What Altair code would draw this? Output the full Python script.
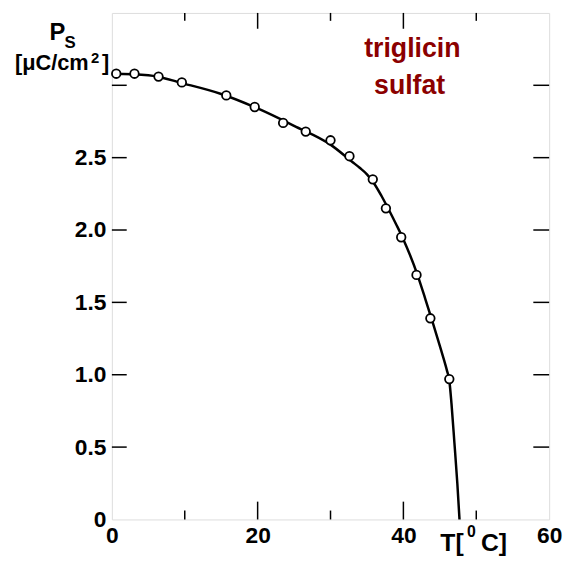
import altair as alt
import pandas as pd

# measured points (T in °C, Ps in µC/cm²)
pts_T = [0.6, 3.1, 6.4, 9.6, 15.7, 19.6, 23.5, 26.6, 30.0, 32.6, 35.8, 37.6, 39.7, 41.8, 43.7, 46.3]
pts_P = [3.08, 3.08, 3.06, 3.02, 2.93, 2.85, 2.74, 2.68, 2.62, 2.51, 2.35, 2.15, 1.95, 1.69, 1.39, 0.97]

# fitted curve
curve_T = [0, 5, 10, 15, 20, 25, 30, 33, 34, 35, 36, 37, 38, 39, 40, 42, 43, 44, 45, 45.5, 46,
           46.3, 46.6, 47.0, 47.4, 47.7]
curve_P = [3.08, 3.07, 3.01, 2.94, 2.84, 2.72, 2.59, 2.47, 2.43, 2.385, 2.32, 2.235, 2.14, 2.04, 1.935,
           1.68, 1.525, 1.365, 1.2, 1.115, 1.025, 0.96, 0.80, 0.53, 0.25, 0.0]

x_labels = [0, 20, 40, 60]
x_ticks_major = [20, 40]
x_ticks_minor = [10, 30, 50]
y_labels = [0, 0.5, 1.0, 1.5, 2.0, 2.5]
y_ticks = [0.5, 1.0, 1.5, 2.0, 2.5, 3.0]

W, H = 442, 512
FONT = "Liberation Sans"

pts = pd.DataFrame({"T": pts_T, "P": pts_P})
curve = pd.DataFrame({"T": curve_T, "P": curve_P})

xs = alt.Scale(domain=[0, 60], nice=False, zero=False)
ys = alt.Scale(domain=[0, 3.5], nice=False, zero=False)

x_axis = alt.Axis(values=x_labels, ticks=False, domain=False, grid=False, title=None,
                  labelFont=FONT, labelFontWeight="bold", labelFontSize=23,
                  labelColor="black", labelPadding=5, labelFlush=False)
y_axis = alt.Axis(values=y_labels, ticks=False, domain=False, grid=False, title=None,
                  labelFont=FONT, labelFontWeight="bold", labelFontSize=23,
                  labelColor="black", labelPadding=6,
                  labelExpr="datum.value == 0 ? '0' : format(datum.value, '.1f')")

line = alt.Chart(curve).mark_line(color="black", strokeWidth=2.5, interpolate="monotone").encode(
    x=alt.X("T:Q", scale=xs, axis=x_axis),
    y=alt.Y("P:Q", scale=ys, axis=y_axis),
)

points = alt.Chart(pts).mark_point(shape="circle", filled=True, fill="white", stroke="black",
                                   strokeWidth=1.8, size=75, opacity=1).encode(
    x=alt.X("T:Q", scale=xs), y=alt.Y("P:Q", scale=ys))

def xtick(vals, y0, y1):
    return alt.Chart(pd.DataFrame({"T": vals})).mark_rule(color="black", strokeWidth=1.5).encode(
        x=alt.X("T:Q", scale=xs), y=alt.value(y0), y2=alt.value(y1))

def ytick(vals, x0, x1):
    return alt.Chart(pd.DataFrame({"P": vals})).mark_rule(color="black", strokeWidth=1.5).encode(
        y=alt.Y("P:Q", scale=ys), x=alt.value(x0), x2=alt.value(x1))

ticks = [
    xtick(x_ticks_major, H, H - 18), xtick(x_ticks_minor, H, H - 9),
    xtick(x_ticks_major, 0, 16), xtick(x_ticks_minor, 0, 8),
    ytick(y_ticks, 0, 15), ytick(y_ticks, W, W - 16),
]

def txt(s, x, y, size, color="black", font=FONT):
    return alt.Chart(pd.DataFrame({"t": [s]})).mark_text(
        align="left", baseline="alphabetic", font=font, fontWeight="bold",
        fontSize=size, color=color).encode(text="t:N", x=alt.value(x), y=alt.value(y))

labels = [
    txt("P", -63, 27, 24), txt("S", -48, 35, 17),
    txt("[\u03bcC/cm", -98, 58, 22), txt("2", -21, 51, 15), txt("]", -10, 58, 22),
    txt("triglicin", 255, 45, 27, "#8b0000"), txt("sulfat", 265, 82, 27, "#8b0000"),
    txt("T[", 332, 544, 25), txt("0", 359, 530, 16), txt("C]", 373, 544, 25),
]

chart = alt.layer(line, points, *ticks, *labels).properties(
    width=W, height=H,
    autosize=alt.AutoSizeParams(type="none"),
    padding={"left": 105, "top": 2, "right": 14, "bottom": 38},
).configure_view(stroke="black", strokeWidth=2).configure(background="white")

chart.save("out.html", embed_options={"renderer": "svg", "actions": False})
